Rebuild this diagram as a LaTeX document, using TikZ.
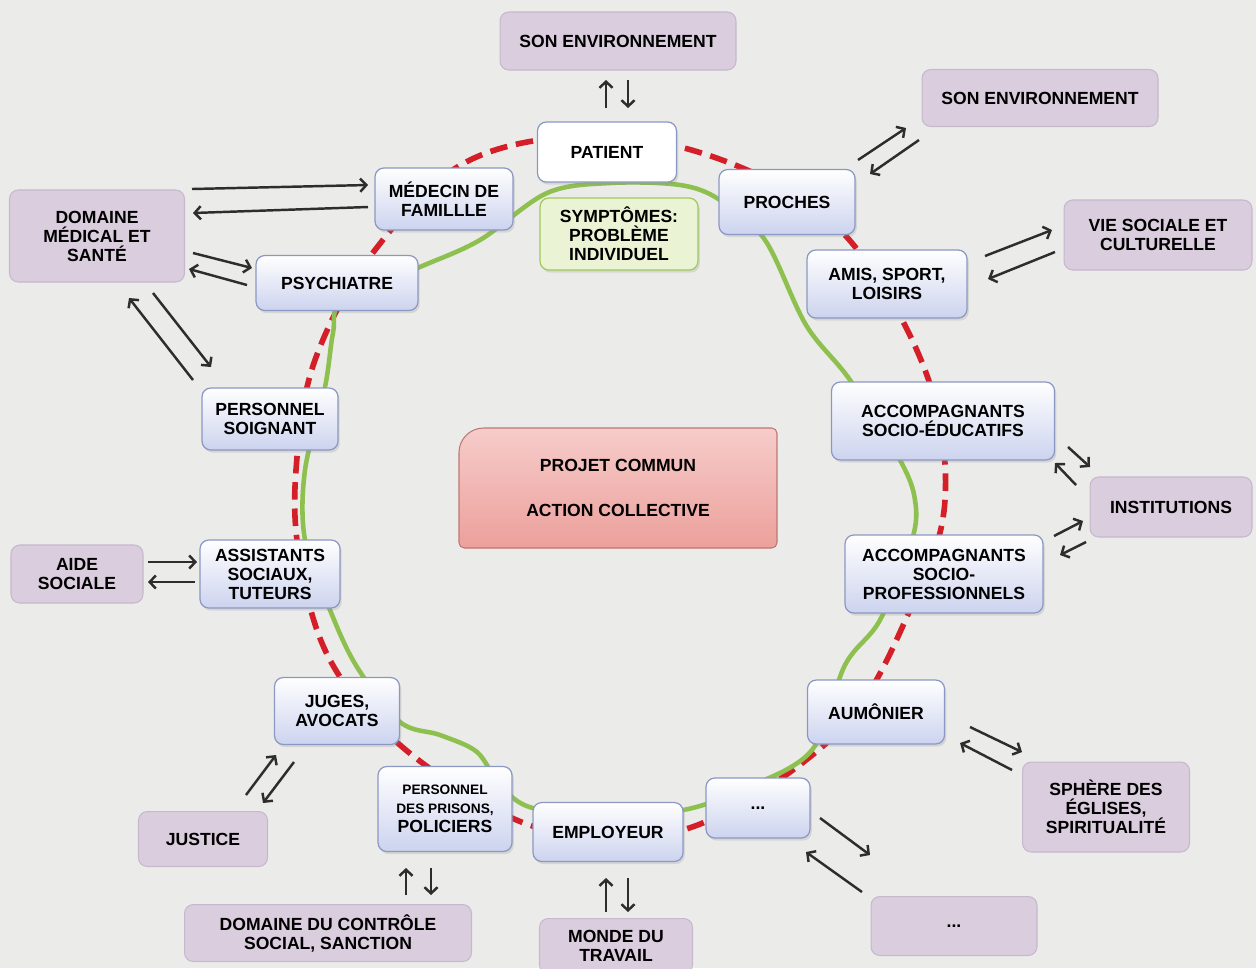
\documentclass[tikz,border=0pt]{standalone}
\usepackage{fontspec}
\setmainfont{Liberation Sans}
\usetikzlibrary{arrows.meta, shadows}

\definecolor{bgc}{RGB}{235,235,233}
\definecolor{actline}{RGB}{140,152,196}
\definecolor{actfill}{RGB}{204,211,238}
\definecolor{fldfill}{RGB}{218,205,222}
\definecolor{fldline}{RGB}{198,184,205}
\definecolor{loopred}{RGB}{212,30,40}
\definecolor{loopgreen}{RGB}{142,192,80}
\definecolor{symfill}{RGB}{234,244,212}
\definecolor{symline}{RGB}{160,200,90}
\definecolor{projtop}{RGB}{246,204,202}
\definecolor{projbot}{RGB}{236,160,155}
\definecolor{projline}{RGB}{190,120,115}
\definecolor{arrgray}{RGB}{45,45,45}
\newcommand{\smallline}{\fontsize{7.8}{9}\selectfont}

\begin{document}
\begin{tikzpicture}[x=0.02cm, y=-0.02cm,
    font=\bfseries\fontsize{10}{10.8}\selectfont,
    actor/.style={draw=actline, line width=0.7pt, rounded corners=5pt, top color=white, bottom color=actfill,
      align=center, inner sep=2pt, drop shadow={opacity=0.2, shadow xshift=1pt, shadow yshift=-1.5pt}},
    field/.style={draw=fldline, line width=0.6pt, fill=fldfill, rounded corners=5pt, align=center, inner sep=2pt},
    arr/.style={-{Straight Barb[length=3.5pt, width=7.5pt]}, line width=1.4pt, arrgray},
  ]
  % background
  \useasboundingbox (0,0) rectangle (1256,968);
  \fill[bgc] (0,0) rectangle (1256,968);

  % red dashed loop
  \draw[loopred, line width=3.2pt, dash pattern=on 10pt off 5pt] plot[smooth cycle, tension=0.6] coordinates {
    (470,160) (607,136) (740,167) (845,235) (925,370) (945,500) (910,610) (840,730)
    (705,822) (600,835) (512,818) (400,745) (330,660) (300,560) (296,470) (315,360) (375,250)};

  % green loop
  \draw[loopgreen, line width=2.6pt] plot[smooth cycle, tension=0.55] coordinates {
    (420,267) (480,240) (547,193) (610,183) (680,185) (720,200) (765,240) (806,325)
    (850,380) (900,460) (915,500) (912,540) (880,620) (845,665) (812,750) (746,788)
    (683,810) (610,812) (533,808) (500,785) (477,752) (440,735) (400,722) (357,667)
    (330,610) (305,540) (305,470) (325,387) (333,333) (343,300)};

  % actors on the loop
  \node[actor, bottom color=white, minimum width=2.78cm, minimum height=1.2cm] (patient) at (607,152) {PATIENT};
  \node[actor, minimum width=2.76cm, minimum height=1.24cm] (medecin) at (444,199) {MÉDECIN DE\\FAMILLLE};
  \node[actor, minimum width=2.72cm, minimum height=1.3cm] (proches) at (787,202) {PROCHES};
  \node[actor, draw=symline, top color=symfill, bottom color=symfill, drop shadow={opacity=0},
    minimum width=3.16cm, minimum height=1.44cm] (sympt) at (619,234) {SYMPTÔMES:\\PROBLÈME\\INDIVIDUEL};
  \node[actor, minimum width=3.24cm, minimum height=1.1cm] (psy) at (337,283) {PSYCHIATRE};
  \node[actor, minimum width=3.2cm, minimum height=1.36cm] (amis) at (887,284) {AMIS, SPORT,\\LOISIRS};
  \node[actor, minimum width=2.72cm, minimum height=1.24cm] (soignant) at (270,419) {PERSONNEL\\SOIGNANT};
  \node[actor, minimum width=4.46cm, minimum height=1.56cm] (socioedu) at (943,421) {ACCOMPAGNANTS\\SOCIO-ÉDUCATIFS};
  \node[actor, minimum width=2.8cm, minimum height=1.36cm] (assist) at (270,574) {ASSISTANTS\\SOCIAUX,\\TUTEURS};
  \node[actor, minimum width=3.96cm, minimum height=1.56cm] (sociopro) at (944,574) {ACCOMPAGNANTS\\SOCIO-\\PROFESSIONNELS};
  \node[actor, minimum width=2.5cm, minimum height=1.34cm] (juges) at (337,711) {JUGES,\\AVOCATS};
  \node[actor, minimum width=2.74cm, minimum height=1.28cm] (aumonier) at (876,712) {AUMÔNIER};
  \node[actor, minimum width=2.68cm, minimum height=1.7cm] (prisons) at (445,809)
    {\smallline PERSONNEL\\\smallline DES PRISONS,\\POLICIERS};
  \node[actor, minimum width=3.0cm, minimum height=1.18cm] (employeur) at (608,832) {EMPLOYEUR};
  \node[actor, minimum width=2.08cm, minimum height=1.2cm] (etc) at (758,808) {...};

  % centre
  \path[draw=projline, line width=0.6pt, top color=projtop, bottom color=projbot]
    (459,548) [rounded corners=3pt] -- (459,470) [rounded corners=14pt] -- (459,428) [rounded corners=3pt] -- (777,428) -- (777,548) -- cycle;
  \node[align=center] (proj) at (618,488) {PROJET COMMUN\\[15pt]ACTION COLLECTIVE};

  % outer fields
  \node[field, minimum width=4.72cm, minimum height=1.16cm] (envtop) at (618,41) {SON ENVIRONNEMENT};
  \node[field, minimum width=4.72cm, minimum height=1.14cm] (envright) at (1040,98) {SON ENVIRONNEMENT};
  \node[field, minimum width=3.5cm, minimum height=1.84cm] (medical) at (97,236) {DOMAINE\\MÉDICAL ET\\SANTÉ};
  \node[field, minimum width=3.76cm, minimum height=1.4cm] (vie) at (1158,235) {VIE SOCIALE ET\\CULTURELLE};
  \node[field, minimum width=3.24cm, minimum height=1.2cm] (instit) at (1171,507) {INSTITUTIONS};
  \node[field, minimum width=2.64cm, minimum height=1.16cm] (aide) at (77,574) {AIDE\\SOCIALE};
  \node[field, minimum width=3.34cm, minimum height=1.8cm] (sphere) at (1106,807) {SPHÈRE DES\\ÉGLISES,\\SPIRITUALITÉ};
  \node[field, minimum width=2.58cm, minimum height=1.1cm] (justice) at (203,839) {JUSTICE};
  \node[field, minimum width=5.74cm, minimum height=1.14cm] (controle) at (328,933) {DOMAINE DU CONTRÔLE\\SOCIAL, SANCTION};
  \node[field, minimum width=3.06cm, minimum height=1.1cm] (travail) at (616,946) {MONDE DU\\TRAVAIL};
  \node[field, minimum width=3.32cm, minimum height=1.18cm] (etcout) at (954,926) {...};

  % exchange arrows
  \foreach \i/\sx/\sy/\ex/\ey in {
      1/606/108/606/80, 2/628/80/628/108,
      3/858/160/906/128, 4/919/140/870/174,
      5/192/189/368/185, 6/368/207/193/213,
      7/193/253/252/268, 8/247/285/189/269,
      9/193/380/129/298, 10/153/293/211/367,
      11/985/256/1052/230, 12/1055/252/988/279,
      13/1068/447/1090/467, 14/1076/485/1055/463,
      15/1054/536/1083/521, 16/1086/542/1060/555,
      17/148/562/197/562, 18/195/582/148/582,
      19/246/795/276/755, 20/294/762/263/803,
      21/406/895/406/868, 22/431/868/431/895,
      23/606/912/606/878, 24/628/878/628/912,
      25/970/727/1022/752, 26/1012/770/960/743,
      27/820/818/870/855, 28/862/892/806/852} {
    \coordinate (as\i) at (\sx,\sy);
    \coordinate (ae\i) at (\ex,\ey);
    \draw[arr] (as\i) -- (ae\i);
  }
\end{tikzpicture}
\end{document}
